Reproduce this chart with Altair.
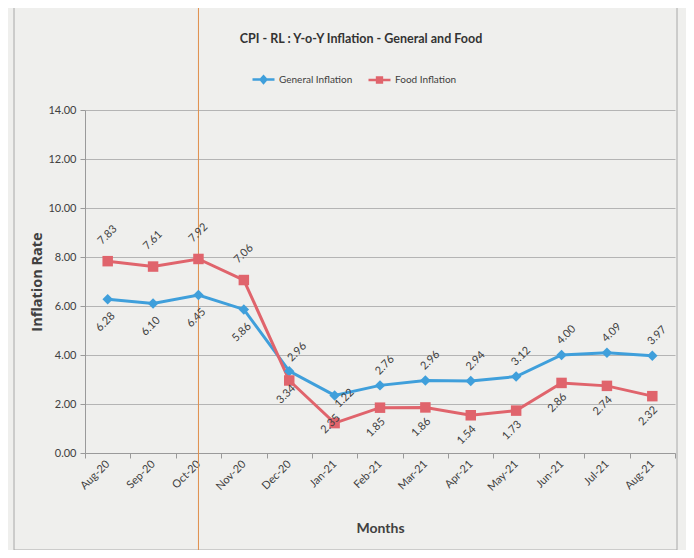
import altair as alt
import pandas as pd

months = ["Aug-20", "Sep-20", "Oct-20", "Nov-20", "Dec-20", "Jan-21", "Feb-21",
          "Mar-21", "Apr-21", "May-21", "Jun-21", "Jul-21", "Aug-21"]
general = [6.28, 6.10, 6.45, 5.86, 3.34, 2.35, 2.76, 2.96, 2.94, 3.12, 4.00, 4.09, 3.97]
food = [7.83, 7.61, 7.92, 7.06, 2.96, 1.22, 1.85, 1.86, 1.54, 1.73, 2.86, 2.74, 2.32]
# data labels exactly as printed on the chart
general_labels = ["6.28", "6.10", "6.45", "5.86", "2.96", "1.22", "2.76", "2.96",
                  "2.94", "3.12", "4.00", "4.09", "3.97"]
food_labels = ["7.83", "7.61", "7.92", "7.06", "3.34", "2.35", "1.85", "1.86",
               "1.54", "1.73", "2.86", "2.74", "2.32"]
series_names = ["General Inflation", "Food Inflation"]
y_ticks = [0, 2, 4, 6, 8, 10, 12, 14]
title_text = "CPI - RL : Y-o-Y Inflation - General and Food"

BLUE = "#3f9fdb"
RED = "#e0646c"
FONT = "Lato"
TXT = "#404040"

rows = []
for m, g, gl in zip(months, general, general_labels):
    rows.append({"month": m, "series": series_names[0], "value": g, "label": gl})
for m, f, fl in zip(months, food, food_labels):
    rows.append({"month": m, "series": series_names[1], "value": f, "label": fl})
df = pd.DataFrame(rows)

base = alt.Chart(df)
X = alt.X("month:N", sort=months)
Y = alt.Y("value:Q")

x_enc = alt.X("month:N", sort=months, title="Months",
              scale=alt.Scale(type="band", paddingInner=0, paddingOuter=0),
              axis=alt.Axis(labelAngle=-45, tickBand="extent", grid=False,
                            labelFont=FONT, labelFontSize=11, labelColor=TXT,
                            titleFont=FONT, titleFontSize=14, titleFontWeight="bold",
                            titleColor=TXT, titlePadding=29,
                            domainColor="#9a9a9a", tickColor="#9a9a9a", tickSize=5,
                            labelPadding=4))
y_enc = alt.Y("value:Q", title="Inflation Rate",
              scale=alt.Scale(domain=[0, 14]),
              axis=alt.Axis(values=y_ticks, format=".2f", grid=True,
                            gridColor="#b4b4b4", domainColor="#9a9a9a",
                            tickColor="#9a9a9a", tickSize=5,
                            labelFont=FONT, labelFontSize=11, labelColor=TXT,
                            titleFont="Open Sans", titleFontSize=14.5, titleFontWeight="bold",
                            titleColor=TXT, titlePadding=3, labelPadding=4))
color_scale = alt.Scale(domain=series_names, range=[BLUE, RED])
legend_paths = ["M-1,0L1,0M0,-0.3L0.26,0L0,0.3L-0.26,0Z",
                "M-1,0L1,0M-0.22,-0.22L0.22,-0.22L0.22,0.22L-0.22,0.22Z"]
leg = dict(title=None, orient="none", direction="horizontal",
           legendX=166, legendY=-43, symbolSize=484,
           symbolStrokeWidth=2.5, symbolOpacity=1,
           labelFont=FONT, labelFontSize=10, labelColor=TXT,
           columnPadding=10, labelOffset=3)

lines = base.mark_line(strokeWidth=3).encode(
    x=x_enc, y=y_enc,
    color=alt.Color("series:N", scale=color_scale, legend=alt.Legend(**leg)),
)

pts_g = base.transform_filter(alt.datum.series == series_names[0]).mark_point(
    shape="diamond", filled=True, size=110, opacity=1, color=BLUE
).encode(x=X, y=Y)
pts_f = base.transform_filter(alt.datum.series == series_names[1]).mark_point(
    shape="square", filled=True, size=110, opacity=1, color=RED
).encode(x=X, y=Y)

R = 0.7071


def label_layer(series, subset, ox, oy):
    # ox, oy: wanted offset on screen; dx/dy act in the rotated text frame
    dx = R * (ox - oy)
    dy = R * (ox + oy)
    return base.transform_filter(alt.datum.series == series).transform_filter(
        alt.FieldOneOfPredicate(field="month", oneOf=subset)
    ).mark_text(angle=315, font=FONT, fontSize=11, color=TXT, dx=dx, dy=dy,
                align="center", baseline="middle").encode(
        x=X, y=Y, text="label:N")


early = months[:4]
late = months[6:]
labels = [
    label_layer(series_names[1], early, 0, -26),
    label_layer(series_names[0], early, -2, 23),
    label_layer(series_names[0], late, 5, -20),
    label_layer(series_names[1], late, -4, 20),
    label_layer(series_names[0], ["Dec-20"], 8, -19),
    label_layer(series_names[1], ["Dec-20"], -3, 14),
    label_layer(series_names[0], ["Jan-21"], 10, 3),
    label_layer(series_names[1], ["Jan-21"], -4, 1),
]

legend_layer = base.transform_filter("false").mark_point(filled=False, strokeWidth=2.5).encode(
    x=X, y=Y,
    color=alt.Color("series:N", scale=color_scale, legend=alt.Legend(**leg)),
    shape=alt.Shape("series:N", scale=alt.Scale(domain=series_names, range=legend_paths),
                    legend=alt.Legend(**leg)),
)

deco = alt.Chart(pd.DataFrame({"month": ["Oct-20"]}))
orange = deco.mark_rule(color="#df8f4c", strokeWidth=1).encode(
    x=X, y=alt.value(-110), y2=alt.value(450))
one = alt.Chart(pd.DataFrame({"t": [title_text]}))
border = one.mark_rect(fill=None, stroke="#a8a8a8", strokeWidth=1).encode(
    x=alt.value(-71), x2=alt.value(592), y=alt.value(-105), y2=alt.value(440))
title = one.mark_text(font=FONT, fontSize=12.5, fontWeight="bold", color="#333333",
                      align="center", baseline="middle").encode(
    text="t:N", x=alt.value(276), y=alt.value(-71))

chart = alt.layer(border, orange, lines, pts_g, pts_f, *labels, legend_layer, title).properties(
    width=590, height=343,
    background="#efefed",
    padding={"left": 77, "top": 102, "right": 11, "bottom": 97},
    autosize=alt.AutoSizeParams(type="none"),
).configure_view(stroke=None)

chart.save("out.html", embed_options={"renderer": "svg", "actions": False})
